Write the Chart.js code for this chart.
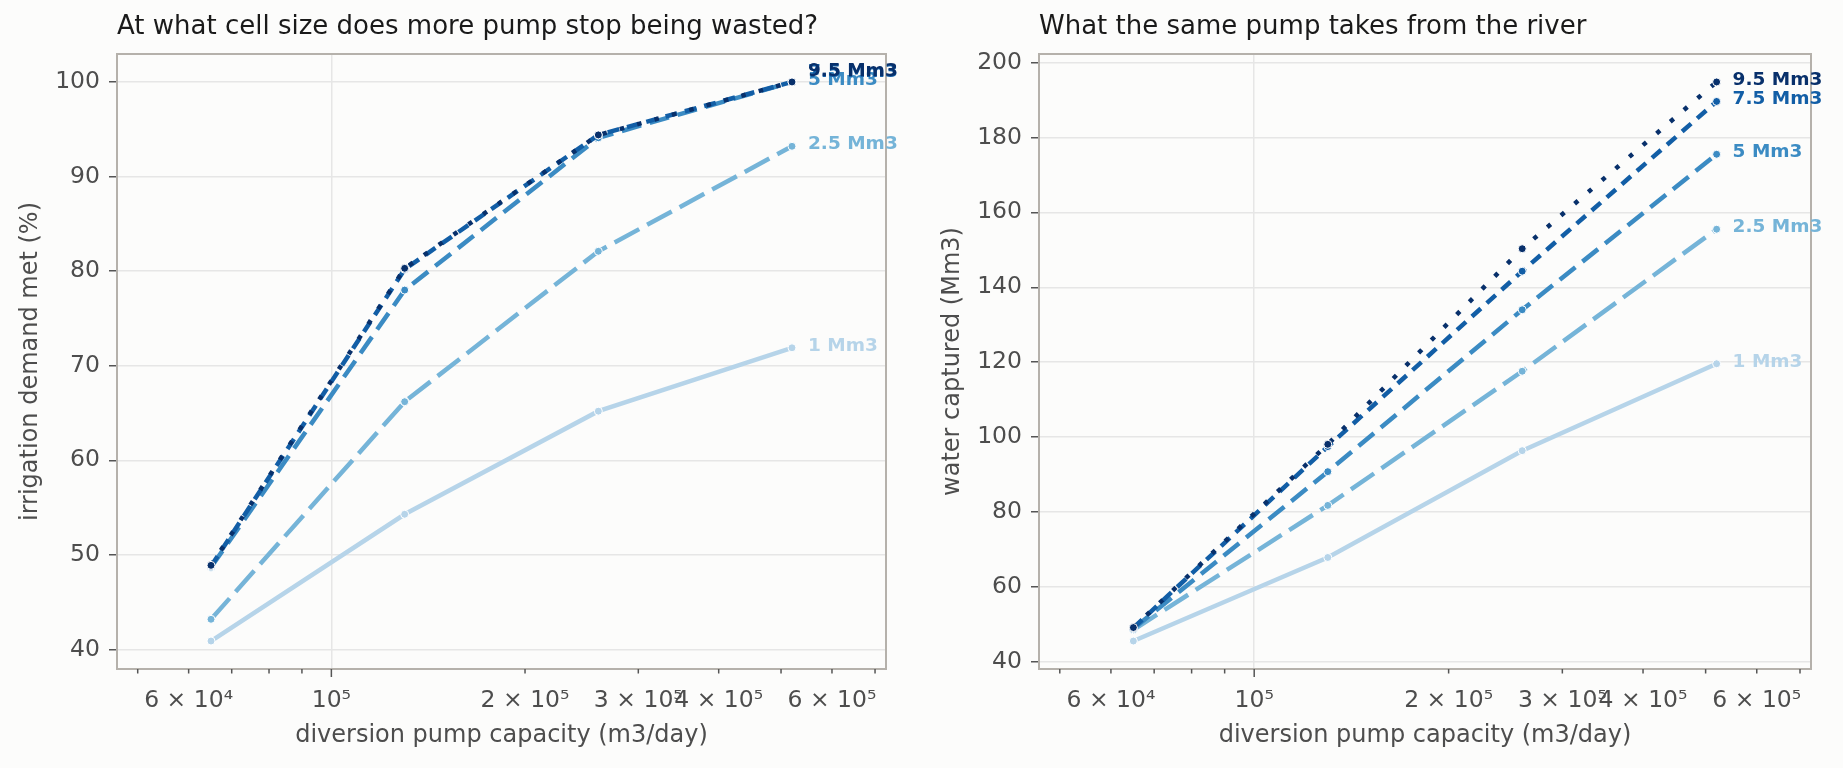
<!DOCTYPE html>
<html>
<head>
<meta charset="utf-8">
<script src="https://cdn.jsdelivr.net/npm/chart.js@4.4.0/dist/chart.umd.min.js"></script>
<style>
  html, body { margin: 0; padding: 0; background: #fcfcfb; }
  #wrap { position: relative; width: 1843px; height: 768px; background: #fcfcfb; }
  .panel { position: absolute; top: 0; height: 768px; }
  #leftPanel { left: 0; width: 930px; }
  #rightPanel { left: 930px; width: 913px; }
</style>
</head>
<body>
<div id="wrap">
  <div class="panel" id="leftPanel"><canvas id="demandChart"></canvas></div>
  <div class="panel" id="rightPanel"><canvas id="captureChart"></canvas></div>
</div>
<script>
// --- data ---
const pumpCapacity = [65000, 130000, 260000, 520000];   // m3/day
const cellSizes = ['1 Mm3', '2.5 Mm3', '5 Mm3', '7.5 Mm3', '9.5 Mm3'];

// irrigation demand met (%)
const demand_1 = [40.9, 54.3, 65.2, 71.9];
const demand_2_5 = [43.2, 66.2, 82.1, 93.2];
const demand_5 = [48.7, 78.0, 94.1, 100.0];
const demand_7_5 = [48.8, 80.2, 94.4, 100.0];
const demand_9_5 = [48.9, 80.3, 94.4, 100.0];

// water captured (Mm3)
const captured_1 = [45.6, 67.9, 96.4, 119.6];
const captured_2_5 = [48.6, 81.8, 117.6, 155.5];
const captured_5 = [48.9, 90.8, 134.0, 175.5];
const captured_7_5 = [49.1, 97.5, 144.3, 189.6];
const captured_9_5 = [49.2, 98.1, 150.3, 194.8];

// x axis ticks
const xTickValues = [50000, 60000, 70000, 80000, 90000, 100000, 200000, 300000, 400000, 500000, 600000, 700000];
const xLabelValues = [60000, 100000, 200000, 300000, 400000, 600000];
const xLabelTexts = ['6 × 10⁴', '10⁵', '2 × 10⁵', '3 × 10⁵', '4 × 10⁵', '6 × 10⁵'];
const xMajorTick = 100000;

// --- styles ---
const seriesColors = ['#b6d4e9', '#75b4d8', '#3b8bc3', '#125ea6', '#08306b'];
const seriesDashes = [[], [28, 9], [20, 9], [12, 8], [4.5, 13.5]];
const FONT = "'DejaVu Sans', sans-serif";
const TICK_COLOR = '#4d4d4d';

function toPoints(vals) {
    return pumpCapacity.map((x, i) => ({ x: x, y: vals[i] }));
}

function makeDatasets(seriesList) {
    return seriesList.map((vals, i) => ({
        label: cellSizes[i],
        data: toPoints(vals),
        borderColor: seriesColors[i],
        backgroundColor: seriesColors[i],
        borderWidth: 4.5,
        borderDash: seriesDashes[i],
        borderCapStyle: 'butt',
        tension: 0,
        pointRadius: 4,
        pointBackgroundColor: seriesColors[i],
        pointBorderColor: '#ffffff',
        pointBorderWidth: 1,
        order: seriesList.length - 1 - i
    }));
}

// matplotlib-like 5% margin around the data
function paddedRange(seriesList) {
    const all = seriesList.flat();
    const lo = Math.min(...all), hi = Math.max(...all);
    const pad = (hi - lo) * 0.05;
    return [lo - pad, hi + pad];
}

// frame, minor/major x tick marks, end labels, panel title
const panelDecor = {
    id: 'panelDecor',
    beforeDatasetsDraw(chart) {
        const { ctx, chartArea: a } = chart;
        const xs = chart.scales.x;
        ctx.save();
        ctx.strokeStyle = '#b5b1ab';
        ctx.lineWidth = 2;
        ctx.strokeRect(a.left, a.top, a.right - a.left, a.bottom - a.top);
        ctx.strokeStyle = '#555';
        ctx.lineWidth = 1.5;
        xs.ticks.forEach(t => {
            const px = xs.getPixelForValue(t.value);
            const len = t.value === xMajorTick ? 8 : 4.5;
            ctx.beginPath();
            ctx.moveTo(px, a.bottom);
            ctx.lineTo(px, a.bottom + len);
            ctx.stroke();
        });
        ctx.restore();
    },
    afterDatasetsDraw(chart, args, opts) {
        const { ctx, chartArea: a } = chart;
        ctx.save();
        ctx.font = 'bold 18.5px ' + FONT;
        ctx.textAlign = 'left';
        ctx.textBaseline = 'middle';
        chart.data.datasets.forEach((ds, i) => {
            const meta = chart.getDatasetMeta(i);
            const pt = meta.data[meta.data.length - 1];
            ctx.fillStyle = ds.borderColor;
            ctx.fillText(ds.label, pt.x + 16, pt.y - 2 + (opts.nudge ? opts.nudge[i] : 0));
        });
        ctx.font = '26px ' + FONT;
        ctx.fillStyle = '#1a1a1a';
        ctx.fillText(opts.title, a.left, 27);
        ctx.restore();
    }
};

function makeChart(canvasId, seriesList, cfg) {
    const [yMin, yMax] = paddedRange(seriesList);
    return new Chart(document.getElementById(canvasId), {
        type: 'line',
        data: { datasets: makeDatasets(seriesList) },
        plugins: [panelDecor],
        options: {
            responsive: true,
            maintainAspectRatio: false,
            animation: false,
            devicePixelRatio: 1,
            layout: { padding: { left: 0, right: cfg.padRight, top: 54, bottom: 0 } },
            plugins: {
                legend: { display: false },
                tooltip: { enabled: false },
                panelDecor: { title: cfg.title, nudge: cfg.nudge }
            },
            scales: {
                x: {
                    type: 'logarithmic',
                    min: pumpCapacity[0] / 1.4,
                    max: pumpCapacity[pumpCapacity.length - 1] * 1.4,
                    afterBuildTicks: s => { s.ticks = xTickValues.map(v => ({ value: v })); },
                    afterFit: s => { s.height = 99; },
                    border: { display: false },
                    grid: {
                        color: c => (c.tick && c.tick.value === xMajorTick) ? '#e6e6e6' : 'rgba(0,0,0,0)',
                        lineWidth: 1.5,
                        drawTicks: true,
                        tickLength: 8,
                        tickColor: 'rgba(0,0,0,0)'
                    },
                    ticks: {
                        autoSkip: false,
                        maxRotation: 0,
                        minRotation: 0,
                        padding: 10,
                        color: TICK_COLOR,
                        font: { family: FONT, size: 23.5 },
                        callback: v => {
                            const k = xLabelValues.indexOf(v);
                            return k >= 0 ? xLabelTexts[k] : '';
                        }
                    },
                    title: {
                        display: true,
                        text: 'diversion pump capacity (m3/day)',
                        color: TICK_COLOR,
                        font: { family: FONT, size: 24, lineHeight: 1.2 },
                        padding: { top: 0, bottom: 17.6 }
                    }
                },
                y: {
                    type: 'linear',
                    min: yMin,
                    max: yMax,
                    afterFit: s => { s.width = cfg.yWidth; },
                    border: { display: false },
                    grid: {
                        color: '#e6e6e6',
                        lineWidth: 1.5,
                        drawTicks: true,
                        tickLength: 8,
                        tickColor: '#555',
                        tickWidth: 1.5
                    },
                    ticks: {
                        stepSize: cfg.yStep,
                        includeBounds: false,
                        padding: 9,
                        color: TICK_COLOR,
                        font: { family: FONT, size: 23.5 }
                    },
                    title: {
                        display: true,
                        text: cfg.yTitle,
                        color: TICK_COLOR,
                        font: { family: FONT, size: 24, lineHeight: 1.2 },
                        padding: { top: cfg.yTitlePad, bottom: 0 }
                    }
                }
            }
        }
    });
}

makeChart('demandChart',
    [demand_1, demand_2_5, demand_5, demand_7_5, demand_9_5],
    {
        title: 'At what cell size does more pump stop being wasted?',
        yTitle: 'irrigation demand met (%)',
        yStep: 10, yWidth: 117, padRight: 44, yTitlePad: 16,
        nudge: [0, 0, 0, -8, -9]
    });

makeChart('captureChart',
    [captured_1, captured_2_5, captured_5, captured_7_5, captured_9_5],
    {
        title: 'What the same pump takes from the river',
        yTitle: 'water captured (Mm3)',
        yStep: 20, yWidth: 109, padRight: 32, yTitlePad: 8.6,
        nudge: [0, 0, 0, 0, 0]
    });
</script>
</body>
</html>
